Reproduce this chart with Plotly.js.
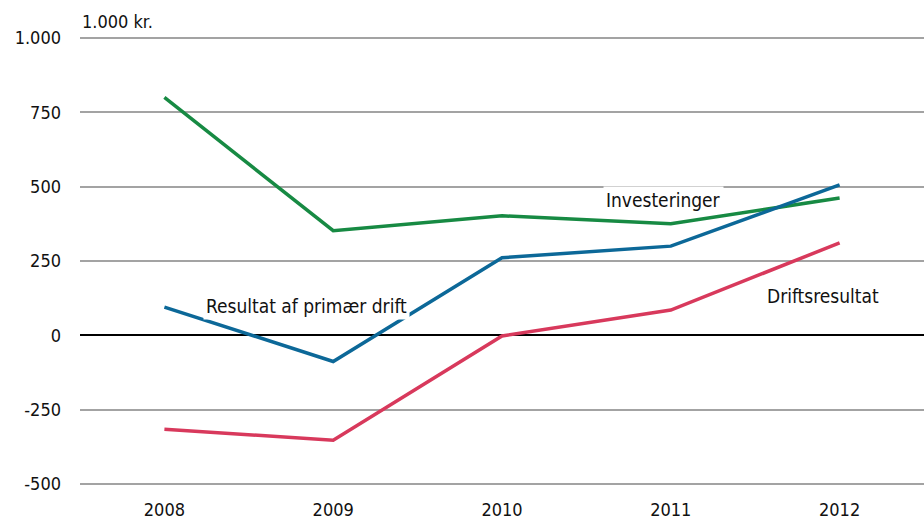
<!DOCTYPE html>
<html><head><meta charset="utf-8">
<script src="https://cdn.plot.ly/plotly-3.0.1.min.js"></script>
<style>body{margin:0;background:#fff}#c{width:924px;height:521px}</style>
</head><body><div id="c"></div>
<script>
const years = ['2008','2009','2010','2011','2012'];
const investeringer = [800, 352, 402, 375, 462];
const primaerDrift = [95, -88, 261, 300, 506];
const driftsresultat = [-316, -353, -2, 85, 311];
const yTickVals = [-500, -250, 0, 250, 500, 750, 1000];
const yTickText = ['-500', '-250', '0', '250', '500', '750', '1.000'];

const FONT = '"DejaVu Sans Condensed", "Liberation Sans Narrow", sans-serif';
const traces = [
  {x: years, y: investeringer, name: 'Investeringer', mode: 'lines', line: {color: '#178a43', width: 3.5}},
  {x: years, y: primaerDrift, name: 'Resultat af primær drift', mode: 'lines', line: {color: '#0c6898', width: 3.5}},
  {x: years, y: driftsresultat, name: 'Driftsresultat', mode: 'lines', line: {color: '#d8395c', width: 3.5}}
];
const layout = {
  width: 924, height: 521,
  margin: {l: 80, r: 0, t: 37, b: 36},
  paper_bgcolor: '#fff', plot_bgcolor: '#fff',
  showlegend: false,
  font: {family: FONT, size: 18, color: '#111'},
  xaxis: {type: 'category', range: [-0.5, 4.5], showgrid: false, zeroline: false, showline: false, ticks: '', tickfont: {size: 18}, ticklabelstandoff: 12},
  yaxis: {range: [-503.4, 1003.4], tickvals: yTickVals, ticktext: yTickText, showgrid: true, gridcolor: '#a3a3a3', gridwidth: 2,
          zeroline: true, zerolinecolor: '#000', zerolinewidth: 2, ticks: '', ticklabelstandoff: 18, tickfont: {size: 18}},
  annotations: [
    {xref: 'paper', yref: 'paper', x: 0.0, y: 1.0, xanchor: 'left', yanchor: 'bottom', yshift: 3, text: '1.000 kr.', showarrow: false, font: {size: 18}},
    {x: 2.957, y: 455, text: 'Investeringer', showarrow: false, bgcolor: '#fff', borderpad: 2, font: {size: 19}},
    {x: 0.84, y: 99, text: 'Resultat af primær drift', showarrow: false, bgcolor: '#fff', borderpad: 2, font: {size: 19}},
    {x: 3.9, y: 132, text: 'Driftsresultat', showarrow: false, font: {size: 19}}
  ]
};
Plotly.newPlot('c', traces, layout, {displayModeBar: false, staticPlot: true});
</script></body></html>
